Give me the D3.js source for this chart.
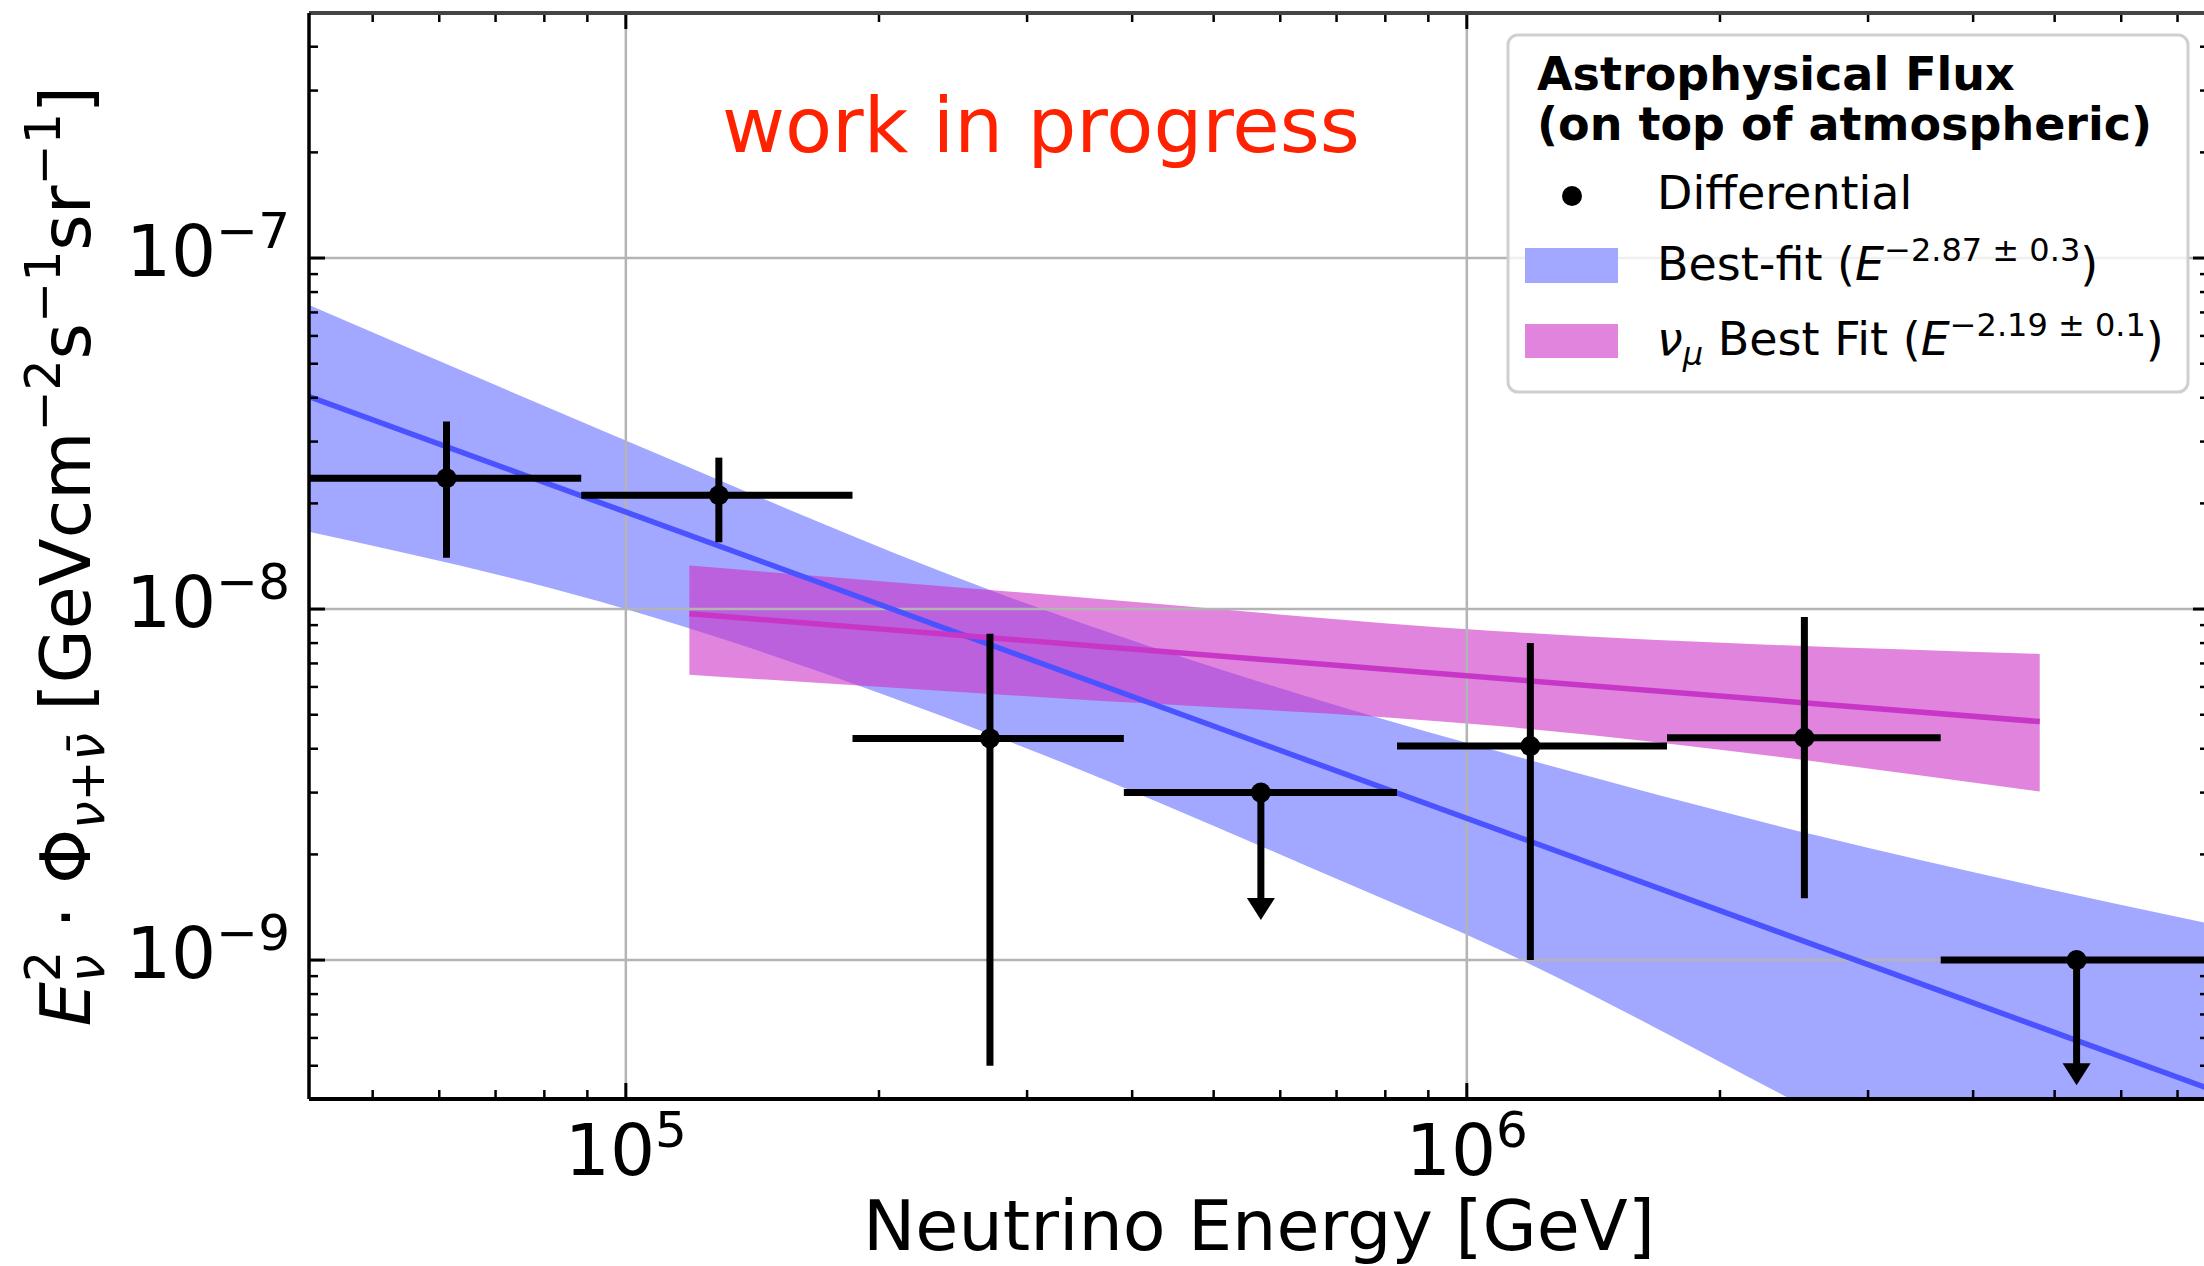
<!DOCTYPE html>
<html><head><meta charset="utf-8">
<script src="https://cdn.jsdelivr.net/npm/d3@7"></script>
<style>
body{margin:0;background:#fff;}
svg{display:block;}
text{font-family:"DejaVu Sans",sans-serif;white-space:pre;}
</style>
</head><body>
<svg id="c" width="2204" height="1266"></svg>
<script>
// ---------------- data ----------------
const binEdges    = [4.2e4, 8.85e4, 1.86e5, 3.91e5, 8.26e5, 1.73e6, 3.66e6, 7.7e6];
const binCenters  = [6.12e4, 1.29e5, 2.71e5, 5.69e5, 1.19e6, 2.52e6, 5.31e6];
const fluxValues  = [2.36e-8, 2.11e-8, 4.28e-9, 3.0e-9, 4.07e-9, 4.3e-9, 1.0e-9];
const fluxErrHigh = [3.42e-8, 2.7e-8, 8.5e-9, null, 8.0e-9, 9.5e-9, null];
const fluxErrLow  = [1.40e-8, 1.55e-8, 5.0e-10, 1.3e-9, 1.0e-9, 1.5e-9, 4.4e-10];
const upperLimit  = [false, false, false, true, false, false, true];

const bestFitLineE    = [4.2e4, 7.63e6];
const bestFitLineFlux = [4.03e-8, 4.3e-10];
const bestFitBandE     = [4.2e4, 9.31e4, 2.8e5, 7.18e5, 1.094e6, 2.594e6, 7.63e6];
const bestFitBandUpper = [7.35e-8, 3.25e-8, 1.1e-8, 5.22e-9, 3.92e-9, 2.27e-9, 1.27e-9];
const bestFitBandLower = [1.66e-8, 1.05e-8, 4.27e-9, 1.66e-9, 1.07e-9, 3.7e-10, 1.0e-10];

const muonLineE    = [1.19e5, 4.8e6];
const muonLineFlux = [9.7e-9, 4.78e-9];
const muonBandE     = [1.19e5, 3.16e5, 1.09e6, 4.8e6];
const muonBandUpper = [1.33e-8, 1.1e-8, 8.65e-9, 7.45e-9];
const muonBandLower = [6.5e-9, 5.6e-9, 4.64e-9, 3.02e-9];

const xMajorTicks = [1e5, 1e6];
const xTickLabels = ["5", "6"];
const yMajorTicks = [1e-7, 1e-8, 1e-9];
const yTickLabels = ["\u22127", "\u22128", "\u22129"];

// ---------------- layout ----------------
const svg = d3.select('#c');
const X0 = 309, X1 = 2209, Y0 = 13, Y1 = 1099;
const x = d3.scaleLog().domain([4.2e4, 7.63e6]).range([X0, X1]);
const y = d3.scaleLog().domain([4.02e-10, 4.99e-7]).range([Y1, Y0]);

const BLUE_BAND = '#a2a7ff', BLUE_LINE = '#4a53ff';
const MAG_FILL = 'rgb(204,50,198)', MAG_OP = 0.6, MAG_LINE = '#c836c8';

svg.append('clipPath').attr('id', 'clip').append('rect')
  .attr('x', X0).attr('y', Y0).attr('width', X1 - X0).attr('height', Y1 - Y0);
const plot = svg.append('g').attr('clip-path', 'url(#clip)');

function rich(parent, runs, px, py, anchor, baseSize, extra) {
  const g = parent.append('g');
  let cx = 0, prevStart = 0;
  runs.forEach(r => {
    const t = g.append('text').attr('x', 0).attr('y', r.dy || 0)
      .attr('font-size', r.size || baseSize)
      .attr('font-style', r.italic ? 'italic' : 'normal')
      .attr('font-weight', r.bold ? 'bold' : 'normal')
      .attr('fill', r.fill || (extra && extra.fill) || '#000')
      .text(r.t);
    const w = t.node().getComputedTextLength();
    let p = r.back ? prevStart : cx;
    t.attr('x', p);
    if (r.back) cx = Math.max(cx, p + w);
    else { prevStart = p; cx = p + w; }
  });
  const off = anchor === 'middle' ? -cx / 2 : anchor === 'end' ? -cx : 0;
  g.attr('transform', `translate(${px + off},${py})`);
  return g;
}

// bands
const area = d3.area().curve(d3.curveMonotoneX).x(d => x(d[0])).y0(d => y(d[1])).y1(d => y(d[2]));
plot.append('path')
  .datum(bestFitBandE.map((e, i) => [e, bestFitBandLower[i], bestFitBandUpper[i]]))
  .attr('d', area).attr('fill', BLUE_BAND);
plot.append('path')
  .datum(muonBandE.map((e, i) => [e, muonBandLower[i], muonBandUpper[i]]))
  .attr('d', area).attr('fill', MAG_FILL).attr('fill-opacity', MAG_OP);

// grid
const grid = plot.append('g').attr('stroke', '#b4b4b4').attr('stroke-width', 2.5);
xMajorTicks.forEach(t => grid.append('line').attr('x1', x(t)).attr('x2', x(t)).attr('y1', Y0).attr('y2', Y1));
yMajorTicks.forEach(t => grid.append('line').attr('y1', y(t)).attr('y2', y(t)).attr('x1', X0).attr('x2', X1));

// lines
const line = d3.line().x(d => x(d[0])).y(d => y(d[1]));
plot.append('path').datum(bestFitLineE.map((e, i) => [e, bestFitLineFlux[i]]))
  .attr('d', line).attr('fill', 'none').attr('stroke', BLUE_LINE).attr('stroke-width', 5.5);
plot.append('path').datum(muonLineE.map((e, i) => [e, muonLineFlux[i]]))
  .attr('d', line).attr('fill', 'none').attr('stroke', MAG_LINE).attr('stroke-width', 5.5);

// error bars
const eb = plot.append('g');
binCenters.forEach((c, i) => {
  const cy = y(fluxValues[i]);
  eb.append('line').attr('x1', x(binEdges[i])).attr('x2', x(binEdges[i + 1]))
    .attr('y1', cy).attr('y2', cy).attr('stroke', '#000').attr('stroke-width', 7);
  if (upperLimit[i]) {
    const tip = y(fluxErrLow[i]);
    eb.append('line').attr('x1', x(c)).attr('x2', x(c)).attr('y1', cy).attr('y2', tip - 18)
      .attr('stroke', '#000').attr('stroke-width', 7);
    eb.append('path').attr('d', `M${x(c) - 14},${tip - 22} L${x(c) + 14},${tip - 22} L${x(c)},${tip} Z`)
      .attr('fill', '#000');
  } else {
    eb.append('line').attr('x1', x(c)).attr('x2', x(c))
      .attr('y1', y(fluxErrHigh[i])).attr('y2', y(fluxErrLow[i]))
      .attr('stroke', '#000').attr('stroke-width', 7);
  }
  eb.append('circle').attr('cx', x(c)).attr('cy', cy).attr('r', 10).attr('fill', '#000');
});

// work in progress
svg.append('text').attr('x', 722).attr('y', 152).attr('font-size', 77)
  .attr('fill', '#ff2200').text('work in progress');

// legend
const lg = svg.append('g');
lg.append('rect').attr('x', 1508).attr('y', 35).attr('width', 680).attr('height', 357)
  .attr('rx', 10).attr('fill', '#fff').attr('fill-opacity', 0.8)
  .attr('stroke', '#cfcfcf').attr('stroke-width', 3);
lg.append('text').attr('x', 1537).attr('y', 90).attr('font-size', 46).attr('font-weight', 'bold').text('Astrophysical Flux');
lg.append('text').attr('x', 1537).attr('y', 140).attr('font-size', 46).attr('font-weight', 'bold').text('(on top of atmospheric)');
lg.append('circle').attr('cx', 1572).attr('cy', 196).attr('r', 10).attr('fill', '#000');
lg.append('text').attr('x', 1657).attr('y', 209).attr('font-size', 46).text('Differential');
lg.append('rect').attr('x', 1525).attr('y', 248).attr('width', 93).attr('height', 35).attr('fill', BLUE_BAND);
rich(lg, [{t: 'Best-fit ('}, {t: 'E', italic: true}, {t: '\u22122.87 \u00b1 0.3', size: 32, dy: -19}, {t: ')'}], 1657, 280, 'start', 46);
lg.append('rect').attr('x', 1525).attr('y', 324).attr('width', 93).attr('height', 34).attr('fill', MAG_FILL).attr('fill-opacity', MAG_OP);
rich(lg, [{t: '\u03bd', italic: true}, {t: '\u03bc', italic: true, size: 32, dy: 10}, {t: ' Best Fit ('}, {t: 'E', italic: true},
          {t: '\u22122.19 \u00b1 0.1', size: 32, dy: -19}, {t: ')'}], 1657, 355, 'start', 46);

// spines & ticks
const ax = svg.append('g');
const minorX = [], minorY = [];
for (let p = 4; p <= 6; p++) for (let k = 2; k <= 9; k++) { const v = k * Math.pow(10, p); if (v > 4.2e4 && v < 7.63e6) minorX.push(v); }
for (let p = -10; p <= -7; p++) for (let k = 2; k <= 9; k++) { const v = k * Math.pow(10, p); if (v > 4.02e-10 && v < 4.99e-7) minorY.push(v); }
function tk(x1, y1, x2, y2, w) { ax.append('line').attr('x1', x1).attr('y1', y1).attr('x2', x2).attr('y2', y2).attr('stroke', '#000').attr('stroke-width', w); }
minorX.forEach(v => { tk(x(v), Y1, x(v), Y1 - 9, 2.5); tk(x(v), Y0, x(v), Y0 + 9, 2.5); });
xMajorTicks.forEach(v => { tk(x(v), Y1, x(v), Y1 - 16, 3); tk(x(v), Y0, x(v), Y0 + 16, 3); });
minorY.forEach(v => { tk(X0, y(v), X0 + 9, y(v), 2.5); tk(X1, y(v), X1 - 9, y(v), 2.5); });
yMajorTicks.forEach(v => { tk(X0, y(v), X0 + 16, y(v), 3); tk(X1, y(v), X1 - 16, y(v), 3); });
ax.append('line').attr('x1', X0).attr('x2', X1).attr('y1', Y0).attr('y2', Y0).attr('stroke', '#444').attr('stroke-width', 4);
ax.append('line').attr('x1', X0).attr('x2', X1).attr('y1', Y1).attr('y2', Y1).attr('stroke', '#000').attr('stroke-width', 4);
ax.append('line').attr('x1', X0).attr('x2', X0).attr('y1', Y0).attr('y2', Y1).attr('stroke', '#000').attr('stroke-width', 3.5);
ax.append('line').attr('x1', X1).attr('x2', X1).attr('y1', Y0).attr('y2', Y1).attr('stroke', '#000').attr('stroke-width', 3.5);

// tick labels
xMajorTicks.forEach((v, i) => rich(svg, [{t: '10'}, {t: xTickLabels[i], size: 50, dy: -28}], x(v), 1175, 'middle', 71));
yMajorTicks.forEach((v, i) => rich(svg, [{t: '10'}, {t: yTickLabels[i], size: 50, dy: -28}], 290, y(v) + 18, 'end', 71));

// axis titles
rich(svg, [{t: 'Neutrino Energy [GeV]'}], (X0 + X1) / 2, 1250, 'middle', 70);
const yl = svg.append('g').attr('transform', `translate(90,556) rotate(-90)`);
rich(yl, [
  {t: 'E', italic: true}, {t: '\u03bd', italic: true, size: 49, dy: 14}, {t: '2', size: 49, dy: -30, back: true},
  {t: ' \u00b7 \u03a6'}, {t: '\u03bd+\u03bd\u0304', italic: true, size: 49, dy: 14},
  {t: ' [GeVcm'}, {t: '\u22122', size: 49, dy: -30}, {t: 's'}, {t: '\u22121', size: 49, dy: -30},
  {t: 'sr'}, {t: '\u22121', size: 49, dy: -30}, {t: ']'}
], 0, 0, 'middle', 70);
</script>
</body></html>
